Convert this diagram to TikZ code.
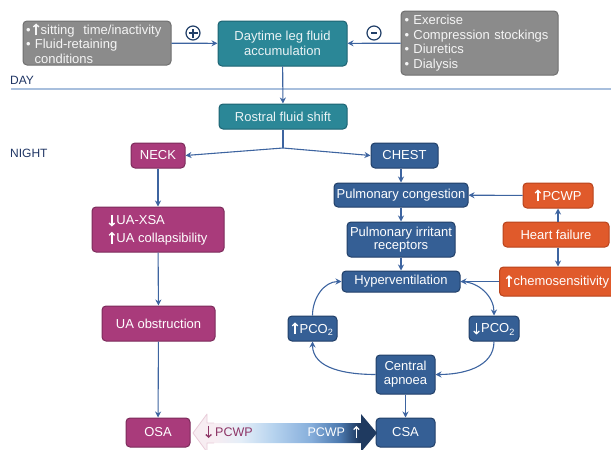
\documentclass[tikz,border=0pt]{standalone}
\usepackage{fontspec}
\setmainfont{Liberation Sans}
\usetikzlibrary{arrows.meta}

\definecolor{grayfill}{HTML}{8B8B8B}
\definecolor{grayline}{HTML}{6F6F6F}
\definecolor{tealfill}{HTML}{2B8797}
\definecolor{tealline}{HTML}{1D6372}
\definecolor{magfill}{HTML}{A93B7B}
\definecolor{magline}{HTML}{7C2B5A}
\definecolor{bluefill}{HTML}{355F95}
\definecolor{blueline}{HTML}{213F68}
\definecolor{orgfill}{HTML}{E05A2B}
\definecolor{orgline}{HTML}{B8431C}
\definecolor{arrowblue}{HTML}{3D64A0}
\definecolor{labelnavy}{HTML}{1F3564}
\definecolor{dayline}{HTML}{A8BFDD}
\definecolor{pcwpmag}{HTML}{8E3566}
\definecolor{shpink}{HTML}{F7EDF2}
\definecolor{shpale}{HTML}{E4EEF8}
\definecolor{shlblue}{HTML}{B5D2EE}
\definecolor{shmblue}{HTML}{86AEDB}
\definecolor{shdblue}{HTML}{4B78AE}
\definecolor{shnavy}{HTML}{1F3A60}
\definecolor{headpink}{HTML}{E9CCD9}

% gradient for the PCWP double arrow (path box maps onto 25bp..75bp)
\pgfdeclarehorizontalshading{pcwpshade}{100bp}{%
  color(0bp)=(shpink); color(25bp)=(shpink); color(31bp)=(shpink);
  color(38bp)=(shpale); color(47bp)=(shlblue); color(57bp)=(shmblue);
  color(65bp)=(shdblue); color(70bp)=(shnavy); color(100bp)=(shnavy)}

% upright and downward stroke arrows used inside the labels
\newcommand{\uparr}[1][white]{\tikz[baseline=0pt]\draw[#1, line width=1.3pt,
  sharp corners, fill=none, -{Straight Barb[length=2.6pt,width=5.5pt]}]
  (0pt,-1.2pt) -- (0pt,10.6pt);\hspace{1.2pt}}
\newcommand{\dnarr}[1][white]{\tikz[baseline=0pt]\draw[#1, line width=1.3pt,
  sharp corners, fill=none, -{Straight Barb[length=2.6pt,width=5.5pt]}]
  (0pt,10.4pt) -- (0pt,-1.6pt);\hspace{1.2pt}}

\tikzset{
  box/.style={rounded corners=4pt, draw, line width=1pt, text=white,
    align=center, inner sep=1pt, font=\fontsize{13}{14.5}\selectfont},
  graybox/.style={box, fill=grayfill, draw=grayline, text=white!92!gray},
  tealbox/.style={box, fill=tealfill, draw=tealline, text=white!90!tealfill},
  magbox/.style={box, fill=magfill, draw=magline},
  bluebox/.style={box, fill=bluefill, draw=blueline},
  orgbox/.style={box, fill=orgfill, draw=orgline},
  arr/.style={draw=arrowblue, line width=1.1pt,
    -{Stealth[length=6pt,width=6pt]}},
  conn/.style={draw=arrowblue, line width=1.1pt},
  sign/.style={circle, draw=blueline, line width=1.2pt, minimum size=14pt,
    inner sep=0pt},
  sidelabel/.style={anchor=west, text=labelnavy, inner sep=0pt,
    font=\fontsize{12}{14}\selectfont},
}

\newcommand{\boxat}[6]{% style, name, cx, cy, w, h, text
  \node[#1, minimum width=#5pt, minimum height=#6pt] (#2) at (#3,#4)}

\begin{document}
\begin{tikzpicture}[x=1pt,y=-1pt]
\useasboundingbox (0,0) rectangle (611,450);
\clip (0,0) rectangle (611,450);

% ---------------- DAY ----------------
\node[sidelabel] (daylbl) at (10,80) {DAY};
\draw[dayline, line width=2.8pt] (11,89) -- (611,89);

\boxat{graybox, align=left, text width=142pt}{risk}{97}{43}{148}{44}
  {\textbullet\,\uparr[white!92!gray]sitting\ \ time/inactivity\\
   \textbullet\ Fluid-retaining\\
   \ \ conditions};
\boxat{tealbox}{daytime}{282.5}{43.5}{129}{45}{Daytime leg fluid\\accumulation};
\boxat{graybox, align=left, text width=150pt}{counter}{479.5}{43}{157}{64}
  {\textbullet\ Exercise\\
   \textbullet\ Compression stockings\\
   \textbullet\ Diuretics\\
   \textbullet\ Dialysis};

\node[sign, path picture={
  \draw[blueline, line width=1.2pt] (path picture bounding box.center)
    ++(-4.5pt,0pt) -- ++(9pt,0pt);
  \draw[blueline, line width=1.2pt] (path picture bounding box.center)
    ++(0pt,-4.5pt) -- ++(0pt,9pt);}] (plus) at (193,33) {};
\node[sign, path picture={
  \draw[blueline, line width=1.2pt] (path picture bounding box.center)
    ++(-3pt,0pt) -- ++(6pt,0pt);}] (minus) at (374,33) {};

\draw[arr] (risk) -- (daytime);
\draw[arr] (counter) -- (daytime);

% ---------------- NIGHT ----------------
\node[sidelabel] (nightlbl) at (10,153) {NIGHT};

\boxat{tealbox}{rostral}{283}{116.5}{128}{25}{Rostral fluid shift};
\draw[arr] (daytime) -- (rostral);
\coordinate (split) at (283,148);
\draw[conn] (rostral) -- (split);

% neck branch
\boxat{magbox}{neck}{158}{155.5}{54}{25}{NECK};
\boxat{magbox, align=left}{uaxsa}{158}{229.5}{132}{45}
  {\dnarr UA-XSA\\[3pt]\uparr UA collapsibility};
\boxat{magbox}{uaobs}{158.5}{323.5}{113}{35}{UA obstruction};
\boxat{magbox}{osa}{158}{432.5}{64}{29}{OSA};

% chest branch
\boxat{bluebox}{chest}{404.5}{155.5}{67}{25}{CHEST};
\boxat{bluebox}{pcong}{401}{195}{134}{24}{Pulmonary congestion};
\boxat{bluebox, font=\fontsize{13}{13.5}\selectfont}{irrit}{401}{239.5}{108}{35}
  {Pulmonary irritant\\receptors};
\boxat{bluebox}{hyper}{401}{281.5}{118}{21}{Hyperventilation};
\boxat{bluebox}{pcol}{312.5}{328.5}{49}{25}{\uparr PCO\textsubscript{2}};
\boxat{bluebox}{pcor}{494}{328.5}{50}{25}{\dnarr PCO\textsubscript{2}};
\boxat{bluebox, font=\fontsize{13}{14}\selectfont}{capn}{405.5}{374.5}{59}{39}
  {Central\\apnoea};
\boxat{bluebox}{csa}{405.5}{432.5}{59}{29}{CSA};

% heart failure side
\boxat{orgbox}{pcwp}{558}{195.5}{70}{25}{\uparr PCWP};
\boxat{orgbox}{heart}{556}{234.5}{106}{25}{Heart failure};
\boxat{orgbox, anchor=west, text width=118pt, align=left}{chemo}{499}{281.5}{126}{29}
  {\,\uparr chemosensitivity};

% connectors
\draw[arr] (split) -- (neck.east);
\draw[arr] (split) -- (chest.west);
\draw[arr] (neck) -- (uaxsa);
\draw[arr] (uaxsa) -- (uaobs);
\draw[arr] (uaobs) -- (osa);

\draw[arr] (chest.south -| pcong) -- (pcong);
\draw[arr] (pcong) -- (irrit);
\draw[arr] (irrit) -- (hyper);
\draw[arr] (pcwp) -- (pcong);
\draw[arr] (heart.north -| pcwp) -- (pcwp);
\draw[arr] (heart.south -| pcwp) -- (chemo.north -| pcwp);
\draw[arr] (chemo) -- (hyper);

% ventilatory loop
\draw[arr] (pcol.north) to[out=90, in=180] (hyper.west);
\draw[arr] (hyper.east) to[out=0, in=90] (pcor.north);
\draw[arr] (pcor.south) to[out=-90, in=0] (capn.east);
\draw[arr] (capn.west) to[out=180, in=-90] (pcol.south);
\draw[arr] (capn) -- (csa);

% PCWP double arrow between OSA and CSA
\coordinate (ltip) at (193,433);
\coordinate (rtip) at (377,433);
\path[shading=pcwpshade]
  (ltip) -- (207,414) -- (207,423) -- (361,423) -- (361,414) -- (rtip)
  -- (361,452) -- (361,443) -- (207,443) -- (207,452) -- cycle;
\draw[headpink, line width=0.8pt, line join=round]
  (214,423) -- (207,423) -- (207,414) -- (ltip) -- (207,452) -- (207,443) -- (214,443);
\node[anchor=west, text=pcwpmag, inner sep=0pt,
  font=\fontsize{12.5}{14}\selectfont] (pcwpdown) at (205,432)
  {\dnarr[pcwpmag]\hspace{2pt}PCWP};
\node[anchor=east, text=white, inner sep=0pt,
  font=\fontsize{12.5}{14}\selectfont] (pcwpup) at (360,432)
  {PCWP\hspace{8pt}\uparr};
\end{tikzpicture}
\end{document}
